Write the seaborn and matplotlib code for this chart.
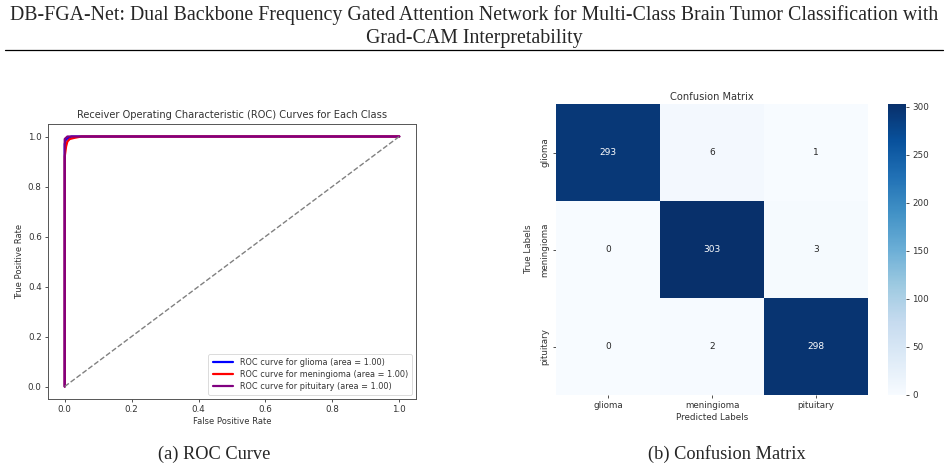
import matplotlib
matplotlib.use("Agg")
import matplotlib.pyplot as plt
import seaborn as sns
import numpy as np
import pandas as pd

sns.set_style("ticks")
plt.rcParams['font.family'] = ['DejaVu Sans']

# ---- data ----
classes = ["glioma", "meningioma", "pituitary"]
roc_colors = ["blue", "red", "purple"]
roc_auc = [1.00, 1.00, 1.00]
fpr_glioma = [0.0, 0.0, 0.003, 0.006, 0.012, 0.02, 1.0]
tpr_glioma = [0.0, 0.97, 0.985, 0.99, 0.995, 1.0, 1.0]
fpr_meningioma = [0.0, 0.0, 0.004, 0.008, 0.015, 0.03, 0.05, 1.0]
tpr_meningioma = [0.0, 0.92, 0.96, 0.98, 0.99, 0.995, 1.0, 1.0]
fpr_pituitary = [0.0, 0.0, 0.004, 0.008, 1.0]
tpr_pituitary = [0.0, 0.99, 0.995, 1.0, 1.0]
cm_values = [[293, 6, 1],
             [0, 303, 3],
             [0, 2, 298]]

fprs = [fpr_glioma, fpr_meningioma, fpr_pituitary]
tprs = [tpr_glioma, tpr_meningioma, tpr_pituitary]

W, H = 948, 468
fig = plt.figure(figsize=(W / 100, H / 100), dpi=100)

def box(x0, y0, x1, y1):
    return [x0 / W, 1 - y1 / H, (x1 - x0) / W, (y1 - y0) / H]

serif = ['Liberation Serif', 'DejaVu Serif']
fig.text(0.5, 1 - 15 / H, "DB-FGA-Net: Dual Backbone Frequency Gated Attention Network for Multi-Class Brain Tumor Classification with",
         ha='center', va='center', fontsize=14.3, family=serif)
fig.text(0.5, 1 - 38 / H, "Grad-CAM Interpretability", ha='center', va='center', fontsize=14.3, family=serif)
fig.add_artist(plt.Line2D([5 / W, 943 / W], [1 - 50 / H, 1 - 50 / H], color='black', lw=0.9))

fig.text(214 / W, 1 - 454 / H, "(a) ROC Curve", ha='center', va='center', fontsize=13.2, family=serif)
fig.text(727 / W, 1 - 454 / H, "(b) Confusion Matrix", ha='center', va='center', fontsize=13.2, family=serif)

# ---- ROC ----
ax1 = fig.add_axes(box(48, 124, 416, 399))
for cls, col, auc, f, t in zip(classes, roc_colors, roc_auc, fprs, tprs):
    df = pd.DataFrame({"fpr": f, "tpr": t})
    sns.lineplot(data=df, x="fpr", y="tpr", ax=ax1, color=col, lw=1.6, sort=False,
                 estimator=None, label=f"ROC curve for {cls} (area = {auc:.2f})")
diag = pd.DataFrame({"x": [0, 1], "y": [0, 1]})
sns.lineplot(data=diag, x="x", y="y", ax=ax1, color="gray", lw=1.0, linestyle="--", estimator=None)
ax1.set_xlim(-0.05, 1.05)
ax1.set_ylim(-0.05, 1.05)
ax1.set_xticks([0, 0.2, 0.4, 0.6, 0.8, 1.0])
ax1.set_yticks([0, 0.2, 0.4, 0.6, 0.8, 1.0])
ax1.set_title("Receiver Operating Characteristic (ROC) Curves for Each Class", fontsize=7.1, color='#333333', pad=4)
ax1.set_xlabel("False Positive Rate", fontsize=6, color='#333333', labelpad=2)
ax1.set_ylabel("True Positive Rate", fontsize=6, color='#333333', labelpad=3)
ax1.tick_params(labelsize=6.3, colors='#333333', length=2.5, width=0.6, pad=2)
for s in ax1.spines.values():
    s.set_visible(True)
    s.set_color('#555555')
    s.set_linewidth(0.7)
leg = ax1.legend(loc='lower right', fontsize=5.9, frameon=True, handlelength=2.5,
                 borderpad=0.5, labelspacing=0.35)
leg.get_frame().set_edgecolor('#cccccc')
leg.get_frame().set_linewidth(0.6)
for tx in leg.get_texts():
    tx.set_color('#333333')

# ---- Confusion matrix ----
ax2 = fig.add_axes(box(556, 104, 868, 395))
cax = fig.add_axes(box(888, 104, 906, 395))
cm_df = pd.DataFrame(cm_values, index=classes, columns=classes)
sns.heatmap(cm_df, annot=True, fmt='d', cmap='Blues', ax=ax2, cbar_ax=cax,
            annot_kws={"fontsize": 6.5})
ax2.set_title("Confusion Matrix", fontsize=7.1, color='#333333', pad=3)
ax2.set_xlabel("Predicted Labels", fontsize=6.3, color='#333333', labelpad=2)
ax2.set_ylabel("True Labels", fontsize=6.3, color='#333333')
ax2.yaxis.set_label_coords(-0.075, 0.5)
ax2.tick_params(labelsize=6.3, colors='#333333', length=2.5, width=0.6, pad=2)
ax2.set_yticklabels(classes, rotation=90, va='center')
cax.tick_params(labelsize=6.3, colors='#333333', length=2.5, width=0.6, pad=2)
for s in cax.spines.values():
    s.set_visible(False)

fig.savefig("out.png", dpi=100)
